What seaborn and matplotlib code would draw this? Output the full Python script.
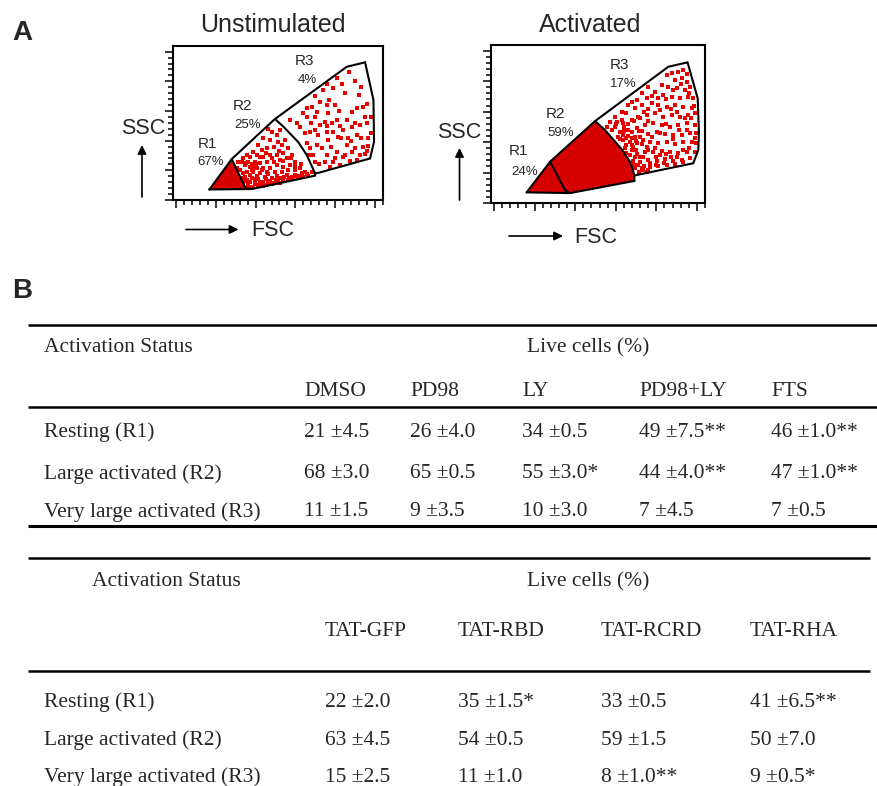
import numpy as np
import pandas as pd
import matplotlib.pyplot as plt
from matplotlib.ticker import MultipleLocator
import seaborn as sns

# ---------------- Panel A data (FSC / SSC channel units) ----------------
gate_names = ['R1', 'R2', 'R3']
unstim_pct = ['67%', '25%', '4%']
activ_pct = ['24%', '59%', '17%']

# gate outlines
unstim_outline = [(168, 71), (280, 276), (497, 546), (858, 898), (950, 928), (992, 674),
                  (995, 393), (975, 280), (724, 186), (699, 179), (699, 164), (381, 74), (168, 71)]
unstim_div12 = [(280, 276), (350, 78), (381, 74)]
unstim_div23 = [(497, 546), (540, 494), (615, 389), (657, 303), (699, 179)]
unstim_r1_fill = [(168, 71), (280, 276), (350, 78), (381, 74)]

activ_outline = [(161, 70), (276, 271), (498, 538), (859, 895), (954, 924), (1004, 687),
                 (1010, 468), (1007, 348), (982, 261), (703, 184), (691, 179), (692, 145),
                 (374, 65), (161, 70)]
activ_div12 = [(276, 271), (350, 85), (374, 65)]
activ_div23 = [(498, 538), (547, 479), (629, 354), (670, 271), (687, 205), (691, 179)]
activ_r1_fill = [(161, 70), (276, 271), (350, 85), (374, 65)]
activ_r2_fill = [(276, 271), (498, 538), (547, 479), (629, 354), (670, 271), (687, 205),
                 (691, 179), (692, 145), (374, 65), (350, 85)]

# events (approximate positions)
unstim_r2_events = [
    (464, 478), (481, 460), (506, 438), (523, 471), (515, 393), (473, 404), (439, 415),
    (414, 370), (431, 337), (456, 348), (490, 359), (531, 370), (548, 404), (565, 348),
    (540, 314), (506, 303), (473, 303), (439, 292), (406, 303), (389, 325), (372, 292),
    (356, 303), (339, 280), (330, 258), (364, 258), (397, 258), (423, 247), (456, 258),
    (490, 258), (523, 269), (557, 280), (582, 303), (598, 258), (573, 236), (540, 224),
    (506, 236), (473, 213), (439, 213), (406, 213), (372, 224), (347, 236), (314, 258),
    (322, 202), (339, 179), (356, 191), (372, 168), (389, 186), (406, 164), (423, 179),
    (448, 157), (464, 173), (481, 150), (506, 164), (531, 146), (557, 168), (582, 157),
    (607, 164), (632, 179), (657, 173), (682, 191), (330, 146), (356, 134), (381, 146),
    (397, 123), (414, 141), (439, 119), (464, 128), (490, 112), (515, 121), (540, 128),
    (565, 134), (590, 141), (615, 148), (640, 155), (665, 164), (364, 101), (389, 89),
    (414, 101), (439, 96), (464, 105), (481, 110), (523, 116), (372, 119), (339, 112),
    (356, 83), (305, 213), (598, 202), (623, 213), (565, 202), (531, 191), (498, 191),
    (456, 191), (431, 202), (389, 218), (347, 157), (372, 87), (397, 105), (426, 92),
    (453, 98), (345, 130), (360, 110), (400, 140), (420, 118), (450, 140), (470, 118),
    (500, 135), (520, 150), (545, 155), (570, 150), (600, 170), (620, 160), (650, 190),
    (380, 200), (400, 240), (420, 290), (450, 320), (480, 280), (520, 330), (540, 260),
    (580, 280), (600, 230), (630, 240), (380, 240), (350, 250),
]
unstim_r3_events = [
    (741, 741), (791, 752), (833, 779), (850, 719), (771, 674), (800, 640), (917, 707),
    (908, 617), (942, 629), (657, 617), (682, 629), (707, 595), (657, 561), (724, 505),
    (749, 528), (758, 500), (783, 516), (808, 539), (825, 500), (791, 460), (841, 471),
    (883, 494), (908, 438), (958, 516), (967, 415), (866, 415), (816, 426), (766, 404),
    (715, 438), (674, 460), (657, 382), (707, 370), (732, 348), (758, 303), (690, 303),
    (808, 325), (858, 370), (900, 348), (925, 303), (841, 292), (791, 258), (749, 258),
    (699, 258), (875, 262), (962, 330), (950, 307), (967, 366), (623, 494), (607, 516),
    (573, 539), (640, 584), (766, 584), (724, 662), (883, 595), (925, 505), (883, 325),
    (674, 348), (668, 300), (908, 268), (825, 236), (774, 224), (700, 700), (760, 780),
    (810, 820), (870, 860), (900, 800), (930, 760), (960, 650), (980, 560), (950, 560),
    (900, 520), (860, 540), (820, 600), (760, 640), (700, 560), (680, 520), (650, 450),
    (700, 470), (760, 460), (830, 420), (880, 400), (930, 420), (980, 450), (780, 360),
    (850, 300), (720, 240), (800, 280), (940, 360),
]
activ_r3_events = [
    (851, 841), (875, 852), (908, 862), (933, 873), (892, 808), (925, 819), (949, 797),
    (826, 775), (859, 764), (900, 753), (941, 742), (966, 764), (760, 764), (793, 731),
    (834, 709), (875, 698), (916, 687), (957, 698), (982, 687), (727, 720), (752, 687),
    (703, 676), (678, 665), (662, 643), (629, 600), (596, 567), (571, 534), (653, 589),
    (694, 622), (727, 643), (777, 654), (809, 643), (851, 633), (892, 643), (933, 633),
    (974, 622), (990, 589), (957, 578), (916, 567), (875, 578), (834, 567), (793, 589),
    (752, 578), (711, 567), (678, 545), (637, 523), (596, 501), (580, 479), (621, 468),
    (662, 479), (703, 490), (744, 512), (785, 523), (826, 512), (867, 501), (908, 512),
    (949, 523), (990, 512), (998, 457), (966, 457), (925, 446), (883, 446), (842, 451),
    (801, 464), (760, 451), (719, 435), (678, 424), (637, 414), (613, 435), (653, 381),
    (686, 370), (727, 385), (768, 398), (809, 392), (851, 398), (892, 385), (933, 398),
    (974, 403), (998, 392), (990, 337), (949, 337), (908, 326), (867, 337), (826, 341),
    (785, 337), (744, 333), (703, 319), (670, 315), (686, 276), (719, 271), (760, 282),
    (801, 276), (842, 289), (883, 276), (925, 282), (966, 293), (727, 227), (768, 238),
    (809, 245), (851, 249), (892, 254), (933, 267), (736, 216), (637, 446), (653, 424),
    (670, 398), (645, 359), (678, 348), (694, 304), (703, 392), (678, 464), (694, 435),
    (714, 473), (736, 414), (752, 370), (777, 435), (793, 359), (818, 315), (736, 304),
    (711, 249), (752, 206), (694, 227), (604, 534), (629, 545), (555, 501), (600, 520),
    (640, 500), (660, 520), (690, 540), (720, 560), (740, 600), (760, 620), (780, 700),
    (810, 690), (850, 680), (880, 740), (920, 780), (950, 850), (960, 720), (985, 640),
    (970, 560), (950, 480), (990, 430), (960, 360), (930, 350), (900, 300), (870, 300),
    (840, 260), (800, 250), (770, 260), (740, 240), (720, 300), (700, 350), (680, 380),
    (660, 440), (640, 470), (620, 420), (650, 330), (690, 250), (715, 205), (760, 215),
    (800, 300), (850, 320), (880, 420), (910, 480), (940, 560), (870, 620), (820, 610),
    (760, 540), (730, 470), (700, 410), (760, 350), (820, 460), (850, 520), (900, 600),
]

# label anchors (channel units)
unstim_name_pos = [(157, 379), (334, 632), (645, 940)]
unstim_pct_pos = [(173, 256), (359, 506), (662, 809)]
activ_name_pos = [(120, 340), (305, 583), (619, 907)]
activ_pct_pos = [(151, 206), (328, 458), (636, 780)]

# ---------------- Panel B data ----------------
row_labels = ['Resting (R1)', 'Large activated (R2)', 'Very large activated (R3)']

inhib_cols = ['DMSO', 'PD98', 'LY', 'PD98+LY', 'FTS']
inhib_mean = [[21, 26, 34, 49, 46], [68, 65, 55, 44, 47], [11, 9, 10, 7, 7]]
inhib_sd = [[4.5, 4.0, 0.5, 7.5, 1.0], [3.0, 0.5, 3.0, 4.0, 1.0], [1.5, 3.5, 3.0, 4.5, 0.5]]
inhib_sig = [['', '', '', '**', '**'], ['', '', '*', '**', '**'], ['', '', '', '', '']]

tat_cols = ['TAT-GFP', 'TAT-RBD', 'TAT-RCRD', 'TAT-RHA']
tat_mean = [[22, 35, 33, 41], [63, 54, 59, 50], [15, 11, 8, 9]]
tat_sd = [[2.0, 1.5, 0.5, 6.5], [4.5, 0.5, 1.5, 7.0], [2.5, 1.0, 1.0, 0.5]]
tat_sig = [['', '*', '', '**'], ['', '', '', ''], ['', '', '**', '*']]

# ---------------- figure ----------------
sns.set_style('ticks')
plt.rcParams['font.family'] = ['Liberation Sans', 'DejaVu Sans']

W, H = 877, 786
fig = plt.figure(figsize=(W / 100, H / 100), dpi=100)

# overlay axes in pixel units for labels, arrows and table rules
ov = fig.add_axes([0, 0, 1, 1])
ov.set_xlim(0, W)
ov.set_ylim(H, 0)
ov.axis('off')

RED = '#e80000'
DARK = '#d70000'


def dot_plot(rect, outline, div12, div23, r1_fill, r2_fill, events, name_pos, pct_pos, pcts):
    ax = fig.add_axes([rect[0] / W, 1 - (rect[1] + rect[3]) / H, rect[2] / W, rect[3] / H])
    ax.fill(*zip(*r1_fill), color=DARK, lw=0, zorder=1)
    if r2_fill is not None:
        ax.fill(*zip(*r2_fill), color=DARK, lw=0, zorder=1)
    df = pd.DataFrame(events, columns=['FSC', 'SSC'])
    sns.scatterplot(data=df, x='FSC', y='SSC', ax=ax, marker='s', s=5.5, color=RED,
                    linewidth=0, legend=False, zorder=2)
    for path in (outline, div12, div23):
        ax.plot(*zip(*path), color='black', lw=1.5, zorder=3, solid_joinstyle='miter')
    for name, pct, (nx, ny), (px, py) in zip(gate_names, pcts, name_pos, pct_pos):
        ax.text(nx, ny, name, ha='center', va='center', fontsize=11)
        ax.text(px, py, pct, ha='center', va='center', fontsize=9.5)
    ax.set_xlim(-15, 1040)
    ax.set_ylim(0, 1038)
    ax.xaxis.set_major_locator(MultipleLocator(200))
    ax.xaxis.set_minor_locator(MultipleLocator(40))
    ax.yaxis.set_major_locator(MultipleLocator(200))
    ax.yaxis.set_minor_locator(MultipleLocator(40))
    ax.tick_params(which='both', direction='out', top=False, right=False,
                   labelleft=False, labelbottom=False, width=1.1, color='black')
    ax.tick_params(which='major', length=6)
    ax.tick_params(which='minor', length=3.5)
    ax.set_xlabel('')
    ax.set_ylabel('')
    for sp in ax.spines.values():
        sp.set_linewidth(1.5)
        sp.set_color('black')
    return ax


dot_plot((173, 46, 210, 154), unstim_outline, unstim_div12, unstim_div23, unstim_r1_fill, None,
         unstim_r2_events + unstim_r3_events, unstim_name_pos, unstim_pct_pos, unstim_pct)
dot_plot((491, 45, 214, 158), activ_outline, activ_div12, activ_div23, activ_r1_fill, activ_r2_fill,
         activ_r3_events, activ_name_pos, activ_pct_pos, activ_pct)

# titles, axis names and arrows
ov.text(12, 40, 'A', fontsize=20, fontweight='bold', va='baseline')
ov.text(12, 298, 'B', fontsize=20, fontweight='bold', va='baseline')
ov.text(273, 32.5, 'Unstimulated', fontsize=18, ha='center', va='baseline')
ov.text(590, 32.5, 'Activated', fontsize=18, ha='center', va='baseline')

arrow = dict(arrowstyle='-|>', lw=1.2, color='black', mutation_scale=13, shrinkA=0, shrinkB=0)
for sx, sy, ax_x, y0, y1 in [(143.5, 134, 142, 197, 145), (459, 137.5, 459.5, 200, 148)]:
    ov.text(sx, sy, 'SSC', fontsize=15.5, ha='center', va='baseline')
    ov.annotate('', xy=(ax_x, y1), xytext=(ax_x, y0), arrowprops=arrow)
for fx, fy, ay, x0, x1 in [(273, 236, 229.5, 186, 238.5), (596, 243, 236, 509, 563)]:
    ov.text(fx, fy, 'FSC', fontsize=15.5, ha='center', va='baseline')
    ov.annotate('', xy=(x1, ay), xytext=(x0, ay), arrowprops=arrow)

# ---------------- tables ----------------
serif = ['Liberation Serif', 'DejaVu Serif']
tfs = 15.5


def table(cols, means, sds, sigs, col_x, rules, status_x, top_base, head_base, row_base, x_end):
    for y, lw in rules:
        ov.plot([28, x_end], [y, y], color='black', lw=lw, solid_capstyle='butt')
    ov.text(status_x, top_base, 'Activation Status', family=serif, fontsize=tfs, va='baseline')
    ov.text(527, top_base, 'Live cells (%)', family=serif, fontsize=tfs, va='baseline')
    for c, x in zip(cols, col_x):
        ov.text(x, head_base, c, family=serif, fontsize=tfs, va='baseline')
    for i, lab in enumerate(row_labels):
        ov.text(44, row_base[i], lab, family=serif, fontsize=tfs, va='baseline')
        for j, x in enumerate(col_x):
            s = f'{means[i][j]} \u00b1{sds[i][j]:.1f}{sigs[i][j]}'
            ov.text(x, row_base[i], s, family=serif, fontsize=tfs, va='baseline')


table(inhib_cols, inhib_mean, inhib_sd, inhib_sig, [304, 410, 522, 639, 771],
      [(324.5, 1.8), (407, 1.8), (526, 2.2)], 44, 352.5, 396, [437, 478.5, 516.5], 877)
table(tat_cols, tat_mean, tat_sd, tat_sig, [325, 458, 601, 750],
      [(557.5, 1.8), (671, 1.8)], 92, 586.5, 635.5, [707, 745, 782], 870)

fig.savefig('out.png', dpi=100)
